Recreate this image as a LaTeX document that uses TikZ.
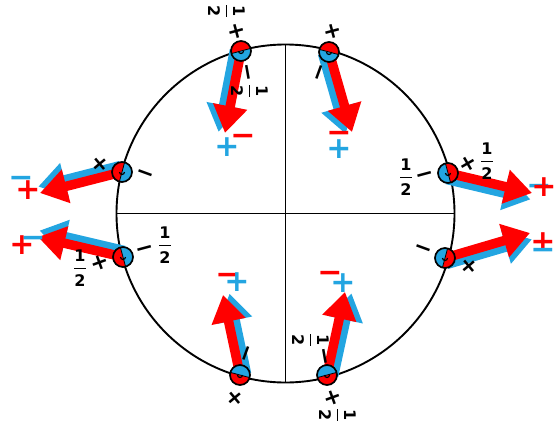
\documentclass[tikz,border=0pt]{standalone}
\usepackage{fontspec}
\usepackage{amsmath}
\setmainfont{DejaVu Sans}
\usetikzlibrary{arrows.meta,calc}
\definecolor{myred}{RGB}{255,0,0}
\definecolor{myblue}{RGB}{35,165,225}
\newcommand{\hf}{$\genfrac{}{}{1.7pt}{0}{\text{\bfseries 1}}{\text{\bfseries 2}}$}
\newcommand{\dipl}[3]{%
 \fill[myred] (#1) ++(#2-90:10) arc[start angle=#2-90, delta angle=180, radius=10] -- cycle;
 \fill[myblue] (#1) ++(#2+90:10) arc[start angle=#2+90, delta angle=180, radius=10] -- cycle;
 \draw[line width=0.8pt] ($(#1)+(#2-90:10)$) -- ($(#1)+(#2+90:10)$);
 \node[dipnode] (#3) at (#1) {};
 \draw[line width=1.2pt] ($(#1)+(-2.5,0)$) arc[start angle=180, delta angle=-180, radius=2.5];
}
\begin{document}
\begin{tikzpicture}[x=1pt,y=-1pt,
  axis/.style={line width=1.8pt,black},
  dipnode/.style={circle,draw,line width=1.7pt,minimum size=20pt,inner sep=0pt},
  redarr/.style={draw=myred,line width=9.5pt,-{Triangle[length=27pt,width=33pt]}},
  bluearr/.style={draw=myblue,line width=9.5pt,-{Triangle[length=27pt,width=33pt]}},
  sym/.style={font=\fontsize{30}{30}\selectfont\bfseries,inner sep=0pt},
  lab/.style={font=\fontsize{22}{22}\selectfont\bfseries,inner sep=0pt},
  frac/.style={font=\fontsize{16}{16}\selectfont,inner sep=0pt}]
\useasboundingbox (0,0) rectangle (556,425);
% big circle and axes
\node[circle,draw,line width=1.9pt,minimum size=338pt,inner sep=0pt,outer sep=0pt] (big) at (285.5,213.5) {};
\draw[axis] (big.west) -- (big.east);
\draw[axis] (big.north) -- (big.south);
% dipole centres and arrow tips
\coordinate (p1) at (241,51);  \coordinate (t1) at (225,133);
\coordinate (p2) at (329,52);  \coordinate (t2) at (352,132);
\coordinate (p3) at (122,172); \coordinate (t3) at (40,193);
\coordinate (p4) at (123,257); \coordinate (t4) at (38,237);
\coordinate (p5) at (448,173); \coordinate (t5) at (532,193);
\coordinate (p6) at (445,258); \coordinate (t6) at (530,233);
\coordinate (p7) at (240,375); \coordinate (t7) at (223,295);
\coordinate (p8) at (327,375); \coordinate (t8) at (345,292);
% arrows
\draw[bluearr] ($(p1)+(-6.5,-1.2)$) -- ($(t1)+(-6.5,-1.2)$);
\draw[redarr] (p1) -- (t1);
\draw[bluearr] ($(p2)+(-6.4,1.9)$) -- ($(t2)+(-6.4,1.9)$);
\draw[redarr] (p2) -- (t2);
\draw[bluearr] ($(p3)+(-1.7,-6.4)$) -- ($(t3)+(-1.7,-6.4)$);
\draw[redarr] (p3) -- (t3);
\draw[bluearr] ($(p4)+(1.5,-6.4)$) -- ($(t4)+(1.5,-6.4)$);
\draw[redarr] (p4) -- (t4);
\draw[bluearr] ($(p5)+(-1.5,6.4)$) -- ($(t5)+(-1.5,6.4)$);
\draw[redarr] (p5) -- (t5);
\draw[bluearr] ($(p6)+(1.9,6.4)$) -- ($(t6)+(1.9,6.4)$);
\draw[redarr] (p6) -- (t6);
\draw[bluearr] ($(p7)+(6.5,-1.3)$) -- ($(t7)+(6.5,-1.3)$);
\draw[redarr] (p7) -- (t7);
\draw[bluearr] ($(p8)+(6.5,1.4)$) -- ($(t8)+(6.5,1.4)$);
\draw[redarr] (p8) -- (t8);
% dipoles
\dipl{p1}{-105}{d1}
\dipl{p2}{-75}{d2}
\dipl{p3}{195}{d3}
\dipl{p4}{165}{d4}
\dipl{p5}{-15}{d5}
\dipl{p6}{15}{d6}
\dipl{p7}{105}{d7}
\dipl{p8}{75}{d8}
% coloured signs
\node[sym,text=myblue] (s1b) at (227,147) {+};
\node[sym,text=myred] (s1r) at (243,140) {−};
\node[sym,text=myred] (s2r) at (339,137) {−};
\node[sym,text=myblue] (s2b) at (339,149) {+};
\node[sym,text=myblue] (s3b) at (21,182) {−};
\node[sym,text=myred] (s3r) at (28,190) {+};
\node[sym,text=myblue] (s4b) at (33,241.5) {−};
\node[sym,text=myred] (s4r) at (22,245) {+};
\node[sym,text=myblue] (s5b) at (539,190) {−};
\node[sym,text=myred] (s5r) at (544,187) {+};
\node[sym,text=myred] (s6r) at (543,242) {+};
\node[sym,text=myblue] (s6b) at (543,254) {−};
\node[sym,text=myred] (s7r) at (228,279) {−};
\node[sym,text=myblue] (s7b) at (237,282) {+};
\node[sym,text=myred] (s8r) at (330,277) {−};
\node[sym,text=myblue] (s8b) at (343,283) {+};
% black labels
\node[lab,rotate=15] (l1a) at (237,31) {+};
\node[frac,rotate=-90] (l1b) at (227,11) {\hf};
\node[lab,rotate=-80] (l1c) at (245,73) {−};
\node[frac,rotate=-90] (l1d) at (250,91) {\hf};
\node[lab,rotate=15] (l2a) at (333,31) {+};
\node[lab,rotate=70] (l2c) at (322,73) {−};
\node[lab,rotate=40] (l3a) at (100,164) {+};
\node[lab,rotate=-20] (l3c) at (145,176) {−};
\node[lab,rotate=20] (l4a) at (100,263) {+};
\node[frac] (l4b) at (80,268) {\hf};
\node[lab,rotate=15] (l4c) at (145,251) {−};
\node[frac] (l4d) at (165,245) {\hf};
\node[lab,rotate=30] (l5a) at (468,164) {+};
\node[frac] (l5b) at (487,161) {\hf};
\node[lab,rotate=15] (l5c) at (425,177) {−};
\node[frac] (l5d) at (406,177) {\hf};
\node[lab,rotate=40] (l6a) at (469,266) {+};
\node[lab,rotate=-20] (l6c) at (423,251) {−};
\node[lab,rotate=40] (l7a) at (235,398) {+};
\node[lab,rotate=70] (l7c) at (249,354) {−};
\node[lab,rotate=20] (l8a) at (333,398) {+};
\node[frac,rotate=-90] (l8b) at (338,415) {\hf};
\node[lab,rotate=-80] (l8c) at (322,357) {−};
\node[frac,rotate=-90] (l8d) at (311,340) {\hf};
\end{tikzpicture}
\end{document}
